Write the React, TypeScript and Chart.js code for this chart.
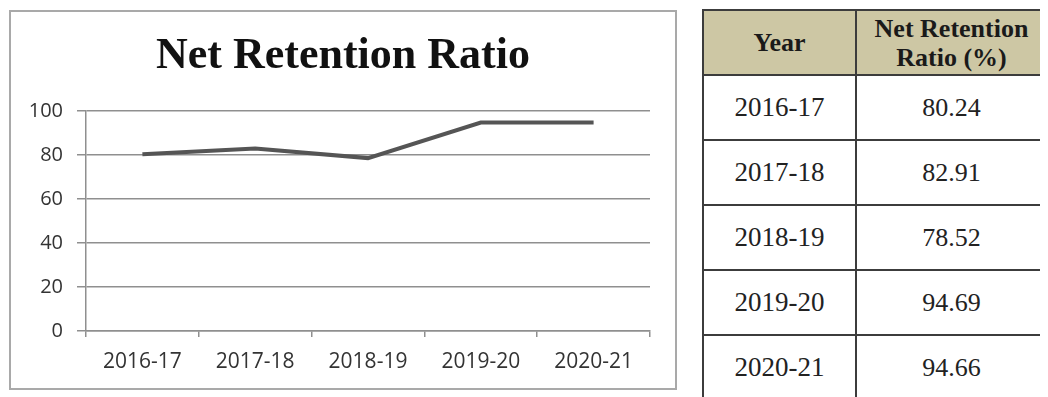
import React, { useEffect, useRef } from "react";
import { Chart, registerables } from "chart.js";

Chart.register(...registerables);

const TITLE = "Net Retention Ratio";
const YEARS = ["2016-17", "2017-18", "2018-19", "2019-20", "2020-21"];
const RATIOS = [80.24, 82.91, 78.52, 94.69, 94.66];
const Y_MIN = 0;
const Y_MAX = 100;
const Y_STEP = 20;
const TABLE_HEADERS = ["Year", "Net Retention\nRatio (%)"];

const GRID = "#8f8f8f";

function LineChart() {
  const ref = useRef<HTMLCanvasElement | null>(null);
  useEffect(() => {
    if (!ref.current) return;
    const chart = new Chart(ref.current, {
      type: "line",
      data: {
        labels: YEARS,
        datasets: [
          {
            data: RATIOS,
            borderColor: "#555555",
            borderWidth: 4,
            pointRadius: 0,
            tension: 0,
            fill: false,
            yAxisID: "y",
          },
        ],
      },
      options: {
        responsive: false,
        animation: false,
        layout: { padding: { left: 0, right: 0, top: 0, bottom: 0 } },
        plugins: {
          legend: { display: false },
          tooltip: { enabled: false },
          title: {
            display: true,
            text: TITLE,
            color: "#111111",
            font: { family: "'Liberation Serif', 'Times New Roman', serif", size: 44, weight: "bold" },
            padding: { top: 18, bottom: 28 },
          },
        },
        scales: {
          x: {
            offset: true,
            grid: {
              display: true,
              offset: true,
              drawOnChartArea: false,
              drawTicks: true,
              tickLength: 6,
              color: GRID,
              lineWidth: 1.5,
            },
            border: { display: true, color: GRID, width: 1.5 },
            ticks: {
              font: { family: "'Open Sans', sans-serif", size: 21 },
              color: "#333333",
              padding: 12,
              maxRotation: 0,
              autoSkip: false,
            },
            afterFit: (s: any) => {
              s.height = 57;
            },
          },
          y: {
            min: Y_MIN,
            max: Y_MAX,
            ticks: {
              stepSize: Y_STEP,
              font: { family: "'Open Sans', sans-serif", size: 20 },
              color: "#333333",
              padding: 14,
            },
            grid: { color: GRID, lineWidth: 1.5, tickLength: 9 },
            border: { display: true, color: GRID, width: 1.5 },
            afterFit: (s: any) => {
              s.width = 75;
            },
          },
          spacer: {
            type: "linear",
            position: "right",
            display: true,
            min: Y_MIN,
            max: Y_MAX,
            ticks: { display: false },
            grid: { display: false, drawTicks: false },
            border: { display: false },
            afterFit: (s: any) => {
              s.width = 25;
            },
          },
        },
      },
    });
    return () => chart.destroy();
  }, []);
  return <canvas ref={ref} width={664} height={376} style={{ display: "block" }} />;
}

function DataTable() {
  const serif = "'Liberation Serif', 'Times New Roman', serif";
  const colW = [153, 191];
  const cellBase: React.CSSProperties = {
    boxSizing: "border-box",
    borderRight: "2px solid #3c3c3c",
    borderBottom: "2px solid #3c3c3c",
    display: "flex",
    alignItems: "center",
    justifyContent: "center",
    textAlign: "center",
    fontFamily: serif,
    color: "#222222",
  };
  return (
    <div
      style={{
        position: "absolute",
        left: 694,
        top: 1,
        width: colW[0] + colW[1] + 2,
        boxSizing: "border-box",
        borderLeft: "2px solid #3c3c3c",
        borderTop: "2px solid #3c3c3c",
      }}
    >
      <div style={{ display: "flex" }}>
        {TABLE_HEADERS.map((h, i) => (
          <div
            key={h}
            style={{
              ...cellBase,
              width: colW[i],
              height: 65,
              background: "#cdc7a4",
              fontWeight: "bold",
              fontSize: 26,
              lineHeight: "29px",
              whiteSpace: "pre-line",
              color: "#1a1a1a",
            }}
          >
            {h}
          </div>
        ))}
      </div>
      {YEARS.map((y, r) => (
        <div key={y} style={{ display: "flex" }}>
          <div style={{ ...cellBase, width: colW[0], height: 65, fontSize: 27 }}>{y}</div>
          <div style={{ ...cellBase, width: colW[1], height: 65, fontSize: 26 }}>
            {RATIOS[r].toFixed(2)}
          </div>
        </div>
      ))}
    </div>
  );
}

export default function App() {
  return (
    <div style={{ position: "relative", width: 1040, height: 389, overflow: "visible" }}>
      <div
        style={{
          position: "absolute",
          left: 1,
          top: 2,
          width: 668,
          height: 380,
          boxSizing: "border-box",
          border: "2px solid #a9a9a9",
          background: "#ffffff",
        }}
      >
        <LineChart />
      </div>
      <DataTable />
    </div>
  );
}
